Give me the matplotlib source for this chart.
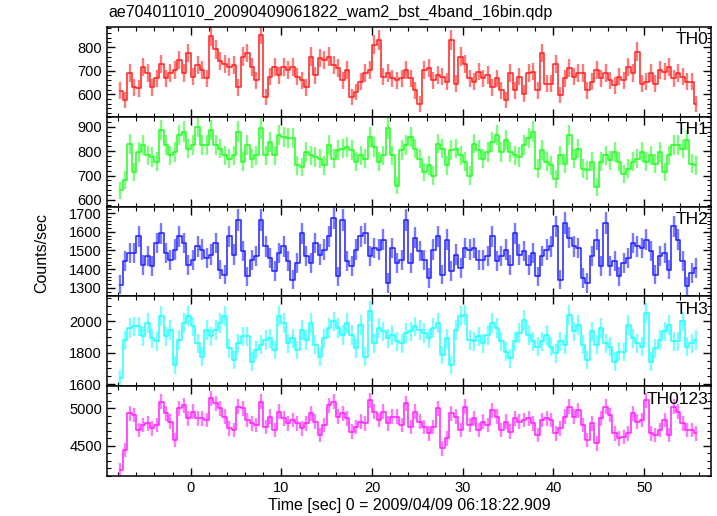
import numpy as np
import matplotlib
matplotlib.use('Agg')
import matplotlib.pyplot as plt
from matplotlib.ticker import MultipleLocator

plt.rcParams['font.family'] = ['Liberation Sans', 'DejaVu Sans']

# bins of 0.5 s, first bin centre at -7.75 s
t_start = -7.75
bin_size = 0.5

th0 = [615, 575, 690, 630, 625, 717, 690, 630, 667, 730, 667, 690, 703, 745, 690, 775,
       675, 725, 703, 667, 845, 790, 740, 730, 717, 725, 630, 760, 775, 717, 660, 853,
       590, 675, 717, 680, 717, 703, 717, 675, 660, 630, 760, 680, 753, 745, 760, 725,
       710, 660, 703, 590, 610, 653, 690, 703, 810, 830, 675, 690, 667, 660, 667, 703,
       667, 617, 560, 703, 710, 660, 681, 675, 653, 830, 645, 760, 730, 667, 653, 696,
       667, 681, 630, 667, 617, 574, 690, 617, 675, 603, 690, 696, 617, 775, 645, 645,
       730, 596, 667, 710, 675, 690, 690, 617, 653, 703, 667, 690, 660, 639, 675, 660,
       717, 690, 781, 645, 653, 690, 645, 703, 696, 717, 667, 690, 675, 653, 653, 560]

th1 = [639, 680, 830, 714, 797, 824, 783, 776, 756, 886, 824, 783, 797, 866, 880, 810,
       824, 900, 824, 824, 886, 824, 810, 783, 769, 783, 880, 756, 824, 769, 783, 893,
       783, 838, 783, 866, 859, 852, 852, 742, 735, 797, 783, 776, 769, 742, 824, 769,
       804, 810, 817, 804, 756, 783, 769, 859, 817, 756, 783, 893, 783, 659, 804, 824,
       859, 810, 769, 714, 742, 700, 831, 810, 742, 804, 810, 783, 756, 700, 831, 804,
       769, 797, 838, 866, 797, 845, 797, 783, 776, 824, 852, 880, 728, 804, 756, 742,
       687, 783, 749, 866, 769, 810, 728, 721, 756, 652, 756, 783, 762, 797, 756, 707,
       728, 756, 769, 797, 756, 783, 749, 797, 714, 783, 824, 824, 810, 845, 749, 742]

th2 = [1318, 1442, 1487, 1487, 1576, 1424, 1469, 1416, 1540, 1593, 1487, 1451, 1504, 1576, 1540, 1424,
       1451, 1522, 1504, 1460, 1478, 1540, 1398, 1371, 1576, 1478, 1664, 1496, 1362, 1451, 1469, 1664,
       1522, 1460, 1389, 1487, 1522, 1442, 1344, 1433, 1593, 1469, 1433, 1540, 1478, 1504, 1576, 1673,
       1362, 1664, 1442, 1416, 1504, 1576, 1593, 1469, 1513, 1504, 1558, 1327, 1513, 1433, 1451, 1664,
       1433, 1567, 1496, 1451, 1353, 1504, 1576, 1371, 1558, 1389, 1478, 1407, 1513, 1504, 1513, 1451,
       1451, 1469, 1576, 1442, 1469, 1504, 1424, 1593, 1478, 1496, 1424, 1487, 1362, 1469, 1504, 1522,
       1629, 1344, 1647, 1567, 1522, 1513, 1353, 1327, 1469, 1558, 1416, 1647, 1416, 1442, 1362, 1433,
       1460, 1540, 1522, 1513, 1558, 1496, 1371, 1469, 1487, 1398, 1629, 1558, 1442, 1309, 1380, 1407]

th3 = [1636, 1880, 1957, 1968, 1968, 1904, 1989, 1893, 1872, 2032, 1904, 1947, 1722, 1882, 1989, 2032,
       1968, 1861, 1775, 1947, 1904, 1947, 1989, 2032, 1829, 1754, 1861, 1904, 1904, 1743, 1818, 1850,
       1882, 1893, 1818, 2032, 1989, 1861, 1893, 1818, 1947, 1882, 1989, 1850, 1775, 1893, 1957, 2000,
       1957, 1914, 1989, 1914, 1829, 1979, 1775, 2064, 1861, 1957, 1936, 1893, 1914, 1872, 1861, 1925,
       1936, 1968, 1947, 1925, 1893, 1957, 1989, 1786, 1893, 1722, 1947, 2032, 2043, 1882, 1872, 1904,
       1861, 1914, 1989, 1957, 1872, 1807, 1765, 1872, 1925, 2011, 1914, 1872, 1840, 1872, 1914, 1840,
       1797, 1872, 1850, 2043, 1936, 1979, 1850, 1754, 1936, 1850, 1957, 1861, 1840, 1743, 1807, 1807,
       1979, 1893, 1861, 1840, 2053, 1743, 1829, 1882, 1936, 1979, 1872, 1872, 2000, 1840, 1861, 1882]

th0123 = [4174, 4442, 4933, 4911, 4710, 4777, 4799, 4732, 4777, 5089, 4933, 4821, 4576, 5000, 5045, 4866,
          4955, 4866, 4866, 4844, 5134, 5067, 5000, 4888, 4732, 4710, 5022, 5000, 4844, 4799, 4777, 5089,
          4754, 4888, 4710, 4955, 4866, 4799, 4844, 4799, 4732, 4799, 4933, 4821, 4643, 4777, 5045, 5089,
          4888, 4933, 4866, 4688, 4754, 4821, 4799, 5112, 4955, 4844, 4955, 4799, 4888, 4888, 4777, 5067,
          4754, 4955, 4821, 4754, 4665, 4754, 5000, 4464, 4598, 4933, 4888, 4710, 5022, 4777, 4866, 4710,
          4821, 4777, 4978, 4888, 4710, 4821, 4688, 4866, 4821, 4844, 4866, 4799, 4643, 4844, 4866, 4844,
          4665, 4732, 4888, 5022, 4888, 4978, 4777, 4576, 4799, 4531, 4866, 5022, 4911, 4665, 4598, 4621,
          4665, 4933, 4821, 4844, 5112, 4665, 4643, 4710, 4844, 4643, 5022, 4955, 4799, 4710, 4710, 4665]

names = ['TH0', 'TH1', 'TH2', 'TH3', 'TH0123']
series = [th0, th1, th2, th3, th0123]
colors = ['#ff2020', '#20ff20', '#2020ff', '#20ffff', '#ff20ff']
ylims = [(505, 886), (573, 941), (1255, 1735), (1587, 2160), (4095, 5298)]
y_major = [100, 100, 100, 200, 500]
y_minor = [20, 20, 20, 50, 100]

fig, axes = plt.subplots(5, 1, sharex=True, figsize=(7.17, 5.16), dpi=100)
fig.subplots_adjust(left=0.149, right=0.992, top=0.948, bottom=0.0775, hspace=0)

for ax, name, vals, col, yl, mj, mn in zip(axes, names, series, colors, ylims, y_major, y_minor):
    rate = np.array(vals, dtype=float)
    t = t_start + bin_size * np.arange(len(rate))
    err = np.sqrt(rate * bin_size) / bin_size
    # error bars (lighter), then the binned light curve as a step line
    ax.errorbar(t, rate, yerr=err, fmt='none', ecolor=col, elinewidth=1.7,
                capsize=0, alpha=0.6)
    ax.step(t, rate, where='mid', color=col, lw=1.1)
    ax.set_xlim(-9.25, 57.4)
    ax.set_ylim(*yl)
    ax.yaxis.set_major_locator(MultipleLocator(mj))
    ax.yaxis.set_minor_locator(MultipleLocator(mn))
    ax.xaxis.set_major_locator(MultipleLocator(10))
    ax.xaxis.set_minor_locator(MultipleLocator(2))
    ax.tick_params(which='both', direction='in', top=True, right=True, labelsize=10.5)
    ax.tick_params(which='major', length=6, width=1.0)
    ax.tick_params(which='minor', length=3, width=0.8)
    for sp in ax.spines.values():
        sp.set_linewidth(1.1)
    ax.text(0.995, 0.94, name, transform=ax.transAxes, ha='right', va='top', fontsize=12.5)

axes[-1].set_xlabel('Time [sec] 0 = 2009/04/09 06:18:22.909', fontsize=11.5, labelpad=2)
fig.text(0.151, 0.962, 'ae704011010_20090409061822_wam2_bst_4band_16bin.qdp',
         fontsize=11.5, ha='left', va='bottom')
fig.text(0.058, 0.51, 'Counts/sec', rotation=90, fontsize=11.5, ha='center', va='center')

fig.savefig('out.png', dpi=100)
